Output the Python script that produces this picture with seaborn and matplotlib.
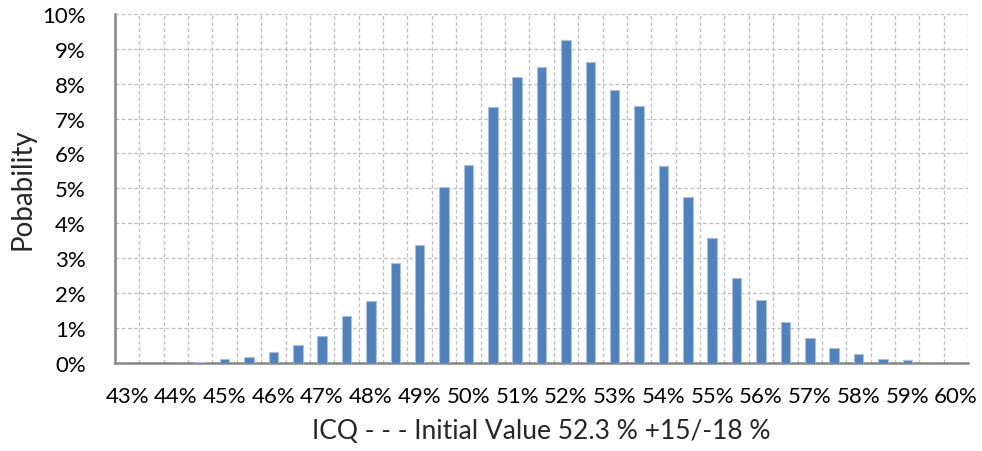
import numpy as np
import pandas as pd
import matplotlib
matplotlib.use("Agg")
import matplotlib.pyplot as plt
import seaborn as sns
from matplotlib.ticker import PercentFormatter, FixedLocator

# ── DATA ──────────────────────────────────────────────
icq_bins = [43.0, 43.5, 44.0, 44.5, 45.0, 45.5, 46.0, 46.5, 47.0, 47.5,
            48.0, 48.5, 49.0, 49.5, 50.0, 50.5, 51.0, 51.5, 52.0, 52.5,
            53.0, 53.5, 54.0, 54.5, 55.0, 55.5, 56.0, 56.5, 57.0, 57.5,
            58.0, 58.5, 59.0, 59.5, 60.0]
probability = [0.0, 0.0, 0.0, 0.02, 0.10, 0.17, 0.30, 0.50, 0.77, 1.35,
               1.76, 2.85, 3.38, 5.03, 5.68, 7.33, 8.19, 8.48, 9.24, 8.62,
               7.82, 7.36, 5.65, 4.74, 3.59, 2.44, 1.81, 1.16, 0.72, 0.43,
               0.25, 0.12, 0.07, 0.0, 0.0]
tick_labels = ["43%", "44%", "45%", "46%", "47%", "48%", "49%", "50%", "51%",
               "52%", "53%", "54%", "55%", "56%", "57%", "58%", "59%", "60%"]

df = pd.DataFrame({"icq": [f"{v:g}" for v in icq_bins], "prob": probability})

# ── PLOT ──────────────────────────────────────────────
sns.set_style("white")
plt.rcParams["font.family"] = ["Lato", "DejaVu Sans"]

fig = plt.figure(figsize=(9.82, 4.52), dpi=100)
ax = fig.add_axes([0.117, 0.195, 0.869, 0.772])

sns.barplot(data=df, x="icq", y="prob", color="#4F81BD", width=0.39,
            edgecolor="#A9C1DF", linewidth=0.8, saturation=1, ax=ax, zorder=3)

n = len(icq_bins)
ax.set_xlim(-0.5, n - 0.5)
ax.set_ylim(0, 10)

# labels on whole percents, gridlines on category boundaries
ax.set_xticks(range(0, n, 2))
ax.set_xticklabels(tick_labels)
ax.xaxis.set_minor_locator(FixedLocator(np.arange(-0.5, n, 1.0)))
ax.set_yticks(range(0, 11))
ax.yaxis.set_major_formatter(PercentFormatter(xmax=100, decimals=0))

ax.grid(False)
ax.grid(True, which="minor", axis="x", color="#BFBFBF", linestyle=(0, (3, 2)), linewidth=0.9, zorder=0)
ax.grid(True, which="major", axis="y", color="#BFBFBF", linestyle=(0, (3, 2)), linewidth=0.9, zorder=0)
ax.set_axisbelow(True)

ax.tick_params(axis="both", which="both", length=0, labelsize=16, colors="black")
ax.tick_params(axis="x", pad=17)
ax.tick_params(axis="y", pad=21)

for side in ["top", "right"]:
    ax.spines[side].set_visible(False)
for side in ["left", "bottom"]:
    ax.spines[side].set_color("#868686")
    ax.spines[side].set_linewidth(1.8)

ax.set_xlabel("ICQ - - - Initial Value 52.3 % +15/-18 %", fontsize=19, labelpad=8)
ax.set_ylabel("Pobability", fontsize=20, labelpad=5)

plt.savefig("out.png", dpi=100)
